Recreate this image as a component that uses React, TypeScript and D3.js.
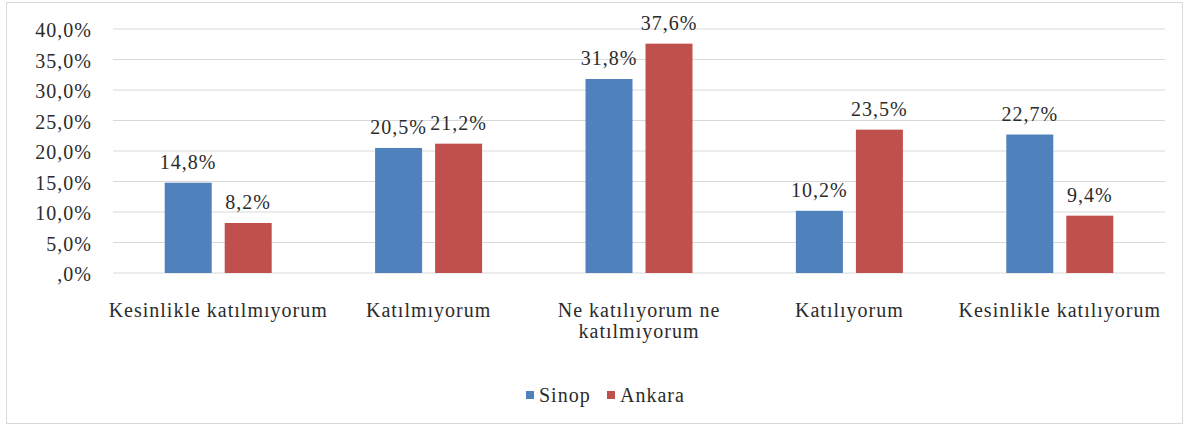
import { scaleBand, scaleLinear } from "d3";

const categories = [
  "Kesinlikle katılmıyorum",
  "Katılmıyorum",
  "Ne katılıyorum ne\nkatılmıyorum",
  "Katılıyorum",
  "Kesinlikle katılıyorum",
];
const seriesNames = ["Sinop", "Ankara"];
const sinop = [14.8, 20.5, 31.8, 10.2, 22.7];
const ankara = [8.2, 21.2, 37.6, 23.5, 9.4];
const tickValues = [0, 5, 10, 15, 20, 25, 30, 35, 40];
const tickLabels = [",0%", "5,0%", "10,0%", "15,0%", "20,0%", "25,0%", "30,0%", "35,0%", "40,0%"];
const colors = ["#4F81BD", "#C0504D"];

const width = 1189;
const height = 432;
const margin = { top: 29, right: 24, bottom: 159, left: 113 };
const textStyle = {
  fontFamily: "'Times New Roman', 'Liberation Serif', serif",
  fontSize: 20,
  letterSpacing: "1px",
};
const textColor = "#2b2b2b";

const innerW = width - margin.left - margin.right;
const innerH = height - margin.top - margin.bottom;

const x = scaleBand().domain(categories).range([0, innerW]);
const y = scaleLinear().domain([0, 40]).range([innerH, 0]);

const barW = 47;
const gap = 13;
const seriesData = [sinop, ankara];
const legendX = [0, 81];

const fmt = (d: number) => `${d.toFixed(1).replace(".", ",")}%`;

const App = () => {
  return (
    <div style={{ position: "fixed", left: 0, top: 0 }}>
      <svg width={width} height={height} style={{ display: "block" }}>
        {/* outer frame */}
        <rect x={6.5} y={2.5} width={1176} height={421} fill="#fff" stroke="#d9d9d9" />

        <g transform={`translate(${margin.left}, ${margin.top})`}>
          {/* gridlines + y ticks */}
          {tickValues.map((v, i) => (
            <g key={v} transform={`translate(0, ${y(v)})`}>
              <line x1={0} x2={innerW} stroke="#d9d9d9" />
              <text x={-21} y={8} textAnchor="end" fill={textColor} style={textStyle}>
                {tickLabels[i]}
              </text>
            </g>
          ))}

          {/* bars */}
          {seriesData.map((values, si) => {
            const offset = si === 0 ? -gap / 2 - barW : gap / 2;
            return (
              <g key={si}>
                {values.map((d, i) => {
                  const bx = x(categories[i])! + x.bandwidth() / 2 + offset;
                  return (
                    <g key={i}>
                      <rect x={bx} y={y(d)} width={barW} height={innerH - y(d)} fill={colors[si]} />
                      <text
                        x={bx + barW / 2}
                        y={y(d) - 14}
                        textAnchor="middle"
                        fill={textColor}
                        style={textStyle}
                      >
                        {fmt(d)}
                      </text>
                    </g>
                  );
                })}
              </g>
            );
          })}

          {/* category labels */}
          {categories.map((c) => (
            <text
              key={c}
              transform={`translate(${x(c)! + x.bandwidth() / 2}, ${innerH + 44})`}
              textAnchor="middle"
              fill={textColor}
              style={textStyle}
            >
              {c.split("\n").map((line, li) => (
                <tspan key={li} x={0} dy={li === 0 ? 0 : 21}>
                  {line}
                </tspan>
              ))}
            </text>
          ))}
        </g>

        {/* legend */}
        <g transform="translate(526, 391)">
          {seriesNames.map((name, i) => (
            <g key={name}>
              <rect x={legendX[i]} y={0} width={8} height={8} fill={colors[i]} />
              <text x={legendX[i] + 13} y={11} fill={textColor} style={textStyle}>
                {name}
              </text>
            </g>
          ))}
        </g>
      </svg>
    </div>
  );
};

export default App;
